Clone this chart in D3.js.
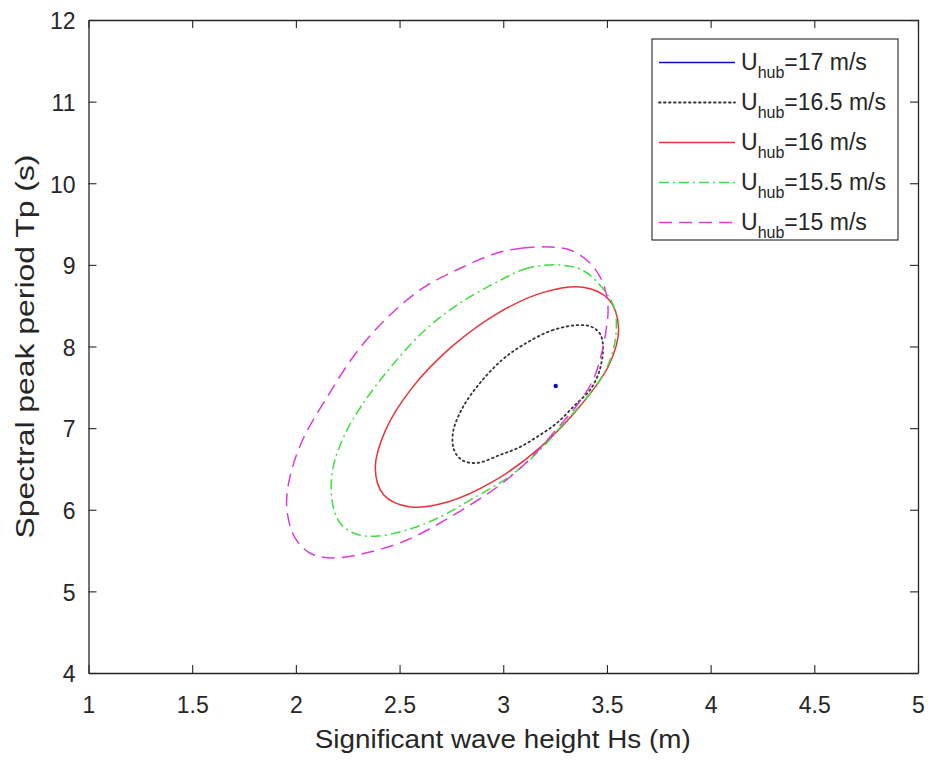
<!DOCTYPE html>
<html>
<head>
<meta charset="utf-8">
<script src="https://cdn.jsdelivr.net/npm/d3@7"></script>
<style>
  html, body { margin: 0; padding: 0; background: #fff; }
  svg { display: block; font-family: "Liberation Sans", Arial, sans-serif; }
</style>
</head>
<body>
<svg id="chart" width="928" height="760"></svg>
<script>
// Environmental contours (Hs in m, Tp in s) for each hub wind speed
const contour17 = [[3.253, 7.516]];

const contour165 = [
  [3.370, 8.263], [3.240, 8.202], [3.095, 8.018], [2.994, 7.835], [2.888, 7.553],
  [2.806, 7.259], [2.758, 6.952], [2.763, 6.732], [2.801, 6.609], [2.873, 6.573],
  [2.984, 6.671], [3.081, 6.769], [3.177, 6.916], [3.259, 7.063], [3.346, 7.283],
  [3.418, 7.467], [3.457, 7.651], [3.476, 7.835], [3.481, 8.018], [3.467, 8.153],
  [3.428, 8.239]
];

const contour16 = [
  [3.508, 8.578], [3.385, 8.725], [3.198, 8.666], [2.977, 8.413], [2.753, 8.001],
  [2.561, 7.496], [2.432, 6.973], [2.383, 6.513], [2.423, 6.184], [2.546, 6.037],
  [2.732, 6.096], [2.954, 6.350], [3.177, 6.761], [3.375, 7.283], [3.510, 7.773],
  [3.556, 8.227]
];

const contour155 = [
  [3.274, 8.998], [3.119, 8.962], [2.970, 8.790], [2.777, 8.508], [2.613, 8.178],
  [2.454, 7.737], [2.319, 7.283], [2.237, 6.928], [2.179, 6.511], [2.174, 6.119],
  [2.213, 5.838], [2.290, 5.703], [2.396, 5.678], [2.565, 5.776], [2.695, 5.911],
  [2.840, 6.119], [3.033, 6.413], [3.177, 6.732], [3.298, 7.075], [3.389, 7.332],
  [3.457, 7.553], [3.515, 7.835], [3.544, 8.165], [3.534, 8.484], [3.457, 8.778],
  [3.380, 8.937]
];

const contour15 = [
  [3.216, 9.219], [3.095, 9.207], [2.970, 9.145], [2.806, 8.974], [2.613, 8.717],
  [2.439, 8.349], [2.290, 7.920], [2.145, 7.357], [2.030, 6.842], [1.967, 6.352],
  [1.957, 5.997], [1.996, 5.654], [2.068, 5.470], [2.179, 5.409], [2.357, 5.482],
  [2.536, 5.629], [2.695, 5.838], [2.840, 6.058], [2.984, 6.303], [3.129, 6.622],
  [3.254, 6.977], [3.360, 7.296], [3.433, 7.590], [3.471, 7.884], [3.496, 8.202],
  [3.505, 8.484], [3.481, 8.778], [3.418, 9.023], [3.322, 9.182]
];

const speedLabels = ["17 m/s", "16.5 m/s", "16 m/s", "15.5 m/s", "15 m/s"];
const xTicks = [1, 1.5, 2, 2.5, 3, 3.5, 4, 4.5, 5];
const yTicks = [4, 5, 6, 7, 8, 9, 10, 11, 12];

const DOTTED = "1.6,3.4";
const series = [
  { data: contour17,  color: "#1010c8", dash: null },
  { data: contour165, color: "#333333", dash: DOTTED },
  { data: contour16,  color: "#e8333a", dash: null },
  { data: contour155, color: "#3ede3e", dash: "10,4,2,4" },
  { data: contour15,  color: "#d83ed8", dash: "13,7" }
];

const svg = d3.select("#chart");
const plotLeft = 88.5, plotRight = 918, plotTop = 20, plotBottom = 673;

const x = d3.scaleLinear().domain([1, 5]).range([plotLeft, plotRight]);
const y = d3.scaleLinear().domain([4, 12]).range([plotBottom, plotTop]);

const axisColor = "#262626";
const tickFont = 23;
const tickLen = 8;

// Contours
const line = d3.line()
  .x(d => x(d[0]))
  .y(d => y(d[1]))
  .curve(d3.curveCatmullRomClosed.alpha(0.5));

const plot = svg.append("g");
series.forEach(s => {
  if (s.data.length === 1) {
    plot.append("circle")
      .attr("cx", x(s.data[0][0]))
      .attr("cy", y(s.data[0][1]))
      .attr("r", 2.2)
      .attr("fill", s.color);
  } else {
    plot.append("path")
      .attr("d", line(s.data))
      .attr("fill", "none")
      .attr("stroke", s.color)
      .attr("stroke-width", s.dash === DOTTED ? 1.8 : 1.5)
      .attr("stroke-linecap", s.dash === DOTTED ? "round" : "butt")
      .attr("stroke-dasharray", s.dash);
  }
});

// Axes: a closed box with inward ticks on all four sides
const gx = svg.append("g").attr("transform", `translate(0,${plotBottom})`)
  .call(d3.axisBottom(x).tickValues(xTicks).tickSizeInner(-tickLen).tickSizeOuter(0)
    .tickFormat(d3.format("")));
const gxTop = svg.append("g").attr("transform", `translate(0,${plotTop})`)
  .call(d3.axisTop(x).tickValues(xTicks).tickSizeInner(-tickLen).tickSizeOuter(0).tickFormat(""));
const gy = svg.append("g").attr("transform", `translate(${plotLeft},0)`)
  .call(d3.axisLeft(y).tickValues(yTicks).tickSizeInner(-tickLen).tickSizeOuter(0)
    .tickFormat(d3.format("")));
const gyRight = svg.append("g").attr("transform", `translate(${plotRight},0)`)
  .call(d3.axisRight(y).tickValues(yTicks).tickSizeInner(-tickLen).tickSizeOuter(0).tickFormat(""));

[gx, gxTop, gy, gyRight].forEach(g => {
  g.select(".domain").attr("stroke", axisColor).attr("stroke-width", 1.3);
  g.selectAll(".tick line").attr("stroke", axisColor).attr("stroke-width", 1.1);
  g.selectAll("text")
    .attr("fill", axisColor)
    .style("font-size", tickFont + "px")
    .style("font-family", "'Liberation Sans', Arial, sans-serif");
});
gx.selectAll("text").attr("y", 24).attr("dy", "0.71em");
gy.selectAll("text").attr("x", -13).attr("dy", "0.38em");

// Axis labels
svg.append("text")
  .attr("x", (plotLeft + plotRight) / 2 - 0.5)
  .attr("y", 748)
  .attr("text-anchor", "middle")
  .attr("fill", axisColor)
  .attr("textLength", 376)
  .attr("lengthAdjust", "spacingAndGlyphs")
  .style("font-size", "26px")
  .text("Significant wave height Hs (m)");

svg.append("text")
  .attr("transform", `translate(34,${(plotTop + plotBottom) / 2}) rotate(-90)`)
  .attr("text-anchor", "middle")
  .attr("fill", axisColor)
  .attr("textLength", 384)
  .attr("lengthAdjust", "spacingAndGlyphs")
  .style("font-size", "26px")
  .text("Spectral peak period Tp (s)");

// Legend
const legX = 652, legY = 39, legW = 246, legH = 201;
const legend = svg.append("g");
legend.append("rect")
  .attr("x", legX).attr("y", legY).attr("width", legW).attr("height", legH)
  .attr("fill", "#fff").attr("stroke", axisColor).attr("stroke-width", 1.1);

const rowY = d3.scalePoint().domain(d3.range(series.length)).range([62.5, 222.5]);
series.forEach((s, i) => {
  const cy = rowY(i);
  legend.append("line")
    .attr("x1", 659).attr("x2", 735)
    .attr("y1", cy).attr("y2", cy)
    .attr("stroke", s.color)
    .attr("stroke-width", s.dash === DOTTED ? 1.8 : 1.5)
    .attr("stroke-linecap", s.dash === DOTTED ? "round" : "butt")
    .attr("stroke-dasharray", s.dash);
  const t = legend.append("text")
    .attr("x", 741).attr("y", cy + 7.5)
    .attr("fill", axisColor)
    .style("font-size", "23px");
  t.append("tspan").text("U");
  t.append("tspan").attr("dy", 8).style("font-size", "16px").text("hub");
  t.append("tspan").attr("dy", -8).text("=" + speedLabels[i]);
});
</script>
</body>
</html>
